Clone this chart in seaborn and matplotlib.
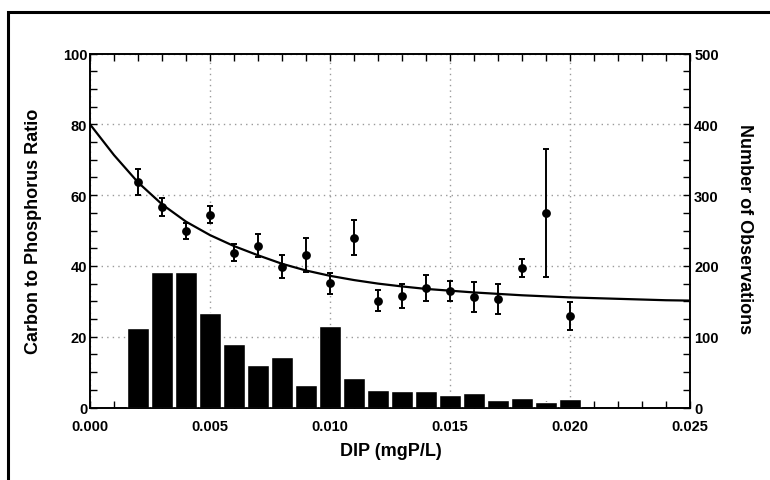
import numpy as np
import pandas as pd
import matplotlib
matplotlib.use("Agg")
import matplotlib.pyplot as plt
from matplotlib.patches import Rectangle
from matplotlib.ticker import MultipleLocator, FormatStrFormatter
import seaborn as sns

# ---------------- data ----------------
dip = [0.002, 0.003, 0.004, 0.005, 0.006, 0.007, 0.008, 0.009, 0.010, 0.011,
       0.012, 0.013, 0.014, 0.015, 0.016, 0.017, 0.018, 0.019, 0.020]
cp_ratio = [63.7, 56.6, 49.8, 54.5, 43.7, 45.7, 39.8, 43.1, 35.1, 48.0,
            30.2, 31.6, 33.7, 32.8, 31.3, 30.6, 39.5, 54.9, 25.9]
cp_err = [3.8, 2.5, 2.3, 2.5, 2.4, 3.3, 3.3, 4.8, 2.9, 5.0,
          3.0, 3.4, 3.7, 2.8, 4.2, 4.3, 2.5, 18.0, 3.9]
n_obs = [112, 192, 191, 133, 90, 60, 72, 32, 115, 42,
         25, 23, 24, 18, 20, 11, 13, 7.5, 12]

fit_x = [0.000, 0.001, 0.002, 0.003, 0.004, 0.005, 0.006, 0.007, 0.008, 0.009,
         0.010, 0.011, 0.012, 0.013, 0.014, 0.015, 0.016, 0.017, 0.018, 0.019,
         0.020, 0.021, 0.022, 0.023, 0.024, 0.025]
fit_y = [80.0, 71.3, 63.6, 57.4, 52.5, 48.7, 45.6, 43.0, 40.6, 38.7,
         37.2, 36.0, 35.0, 34.2, 33.5, 33.0, 32.5, 32.1, 31.7, 31.4,
         31.1, 30.9, 30.7, 30.5, 30.3, 30.2]

x_ticks = [0.000, 0.005, 0.010, 0.015, 0.020, 0.025]
left_ticks = [0, 20, 40, 60, 80, 100]
right_ticks = [0, 100, 200, 300, 400, 500]

pts = pd.DataFrame({"dip": dip, "cp": cp_ratio, "err": cp_err, "n": n_obs})
fit = pd.DataFrame({"dip": fit_x, "cp": fit_y})

# ---------------- style ----------------
sns.set_style("white")
plt.rcParams["font.family"] = ["Liberation Sans", "DejaVu Sans"]
plt.rcParams["font.weight"] = "bold"
plt.rcParams["text.color"] = "black"
plt.rcParams["axes.labelcolor"] = "black"
plt.rcParams["xtick.color"] = "black"
plt.rcParams["ytick.color"] = "black"

W, H = 770, 481
fig = plt.figure(figsize=(W / 100, H / 100), dpi=100)
ax = fig.add_axes([90 / W, 1 - 408.5 / H, 600 / W, 354 / H])
ax2 = ax.twinx()

# grid on the left axis (dotted)
ax.set_xlim(0, 0.025)
ax.set_ylim(0, 100)
ax.set_xticks(x_ticks)
ax.set_yticks(left_ticks)
ax.xaxis.set_minor_locator(MultipleLocator(0.001))
ax.yaxis.set_minor_locator(MultipleLocator(5))
ax.xaxis.set_major_formatter(FormatStrFormatter("%.3f"))
ax.grid(True, which="major", color="#9a9a9a", linestyle=(0, (1, 3)), linewidth=1.0)

# curve + points with error bars
sns.lineplot(data=fit, x="dip", y="cp", ax=ax, color="black", linewidth=1.6,
             sort=False, estimator=None, zorder=3)
ax.errorbar(pts["dip"], pts["cp"], yerr=pts["err"], fmt="none", ecolor="black",
            elinewidth=1.4, capsize=2.4, capthick=1.4, zorder=3)
sns.scatterplot(data=pts, x="dip", y="cp", ax=ax, color="black", s=40,
                edgecolor="black", linewidth=0, zorder=4)

# histogram bars on right axis
ax2.bar(pts["dip"], pts["n"], width=0.00088, color="black", zorder=2)
ax2.set_ylim(0, 500)
ax2.set_yticks(right_ticks)
ax2.yaxis.set_minor_locator(MultipleLocator(25))
ax2.grid(False)

ax.set_xlabel("")
ax.set_ylabel("")
ax2.set_ylabel("")

for a in (ax, ax2):
    for s in a.spines.values():
        s.set_visible(True)
        s.set_linewidth(1.2)
        s.set_color("black")

ax.tick_params(axis="x", which="both", direction="in", top=True, bottom=True,
               length=5, width=1.0, labelsize=10.5, pad=8.5, colors="black")
ax.tick_params(axis="y", which="both", direction="in", left=True, right=False,
               length=5, width=1.0, labelsize=10.5, pad=2, colors="black")
ax2.tick_params(axis="y", which="both", direction="in", right=True, left=False,
                length=5, width=1.0, labelsize=10.5, pad=3, colors="black")
for lab in ax.get_xticklabels() + ax.get_yticklabels() + ax2.get_yticklabels():
    lab.set_fontweight("bold")
    lab.set_color("black")

# axis titles
fig.text(391 / W, 1 - 452 / H, "DIP (mgP/L)", ha="center", va="center",
         fontsize=13, fontweight="bold", color="black")
fig.text(34 / W, 1 - 231 / H, "Carbon to Phosphorus Ratio", ha="center",
         va="center", rotation=90, fontsize=13, fontweight="bold", color="black")
fig.text(745 / W, 1 - 229 / H, "Number of Observations", ha="center",
         va="center", rotation=-90, fontsize=13, fontweight="bold", color="black")

# outer frame
fig.add_artist(Rectangle((8 / W, -0.2), 1.5, 1.2 - 13 / H,
                         transform=fig.transFigure, fill=False,
                         edgecolor="black", linewidth=2.2))

fig.savefig("out.png", dpi=100)
